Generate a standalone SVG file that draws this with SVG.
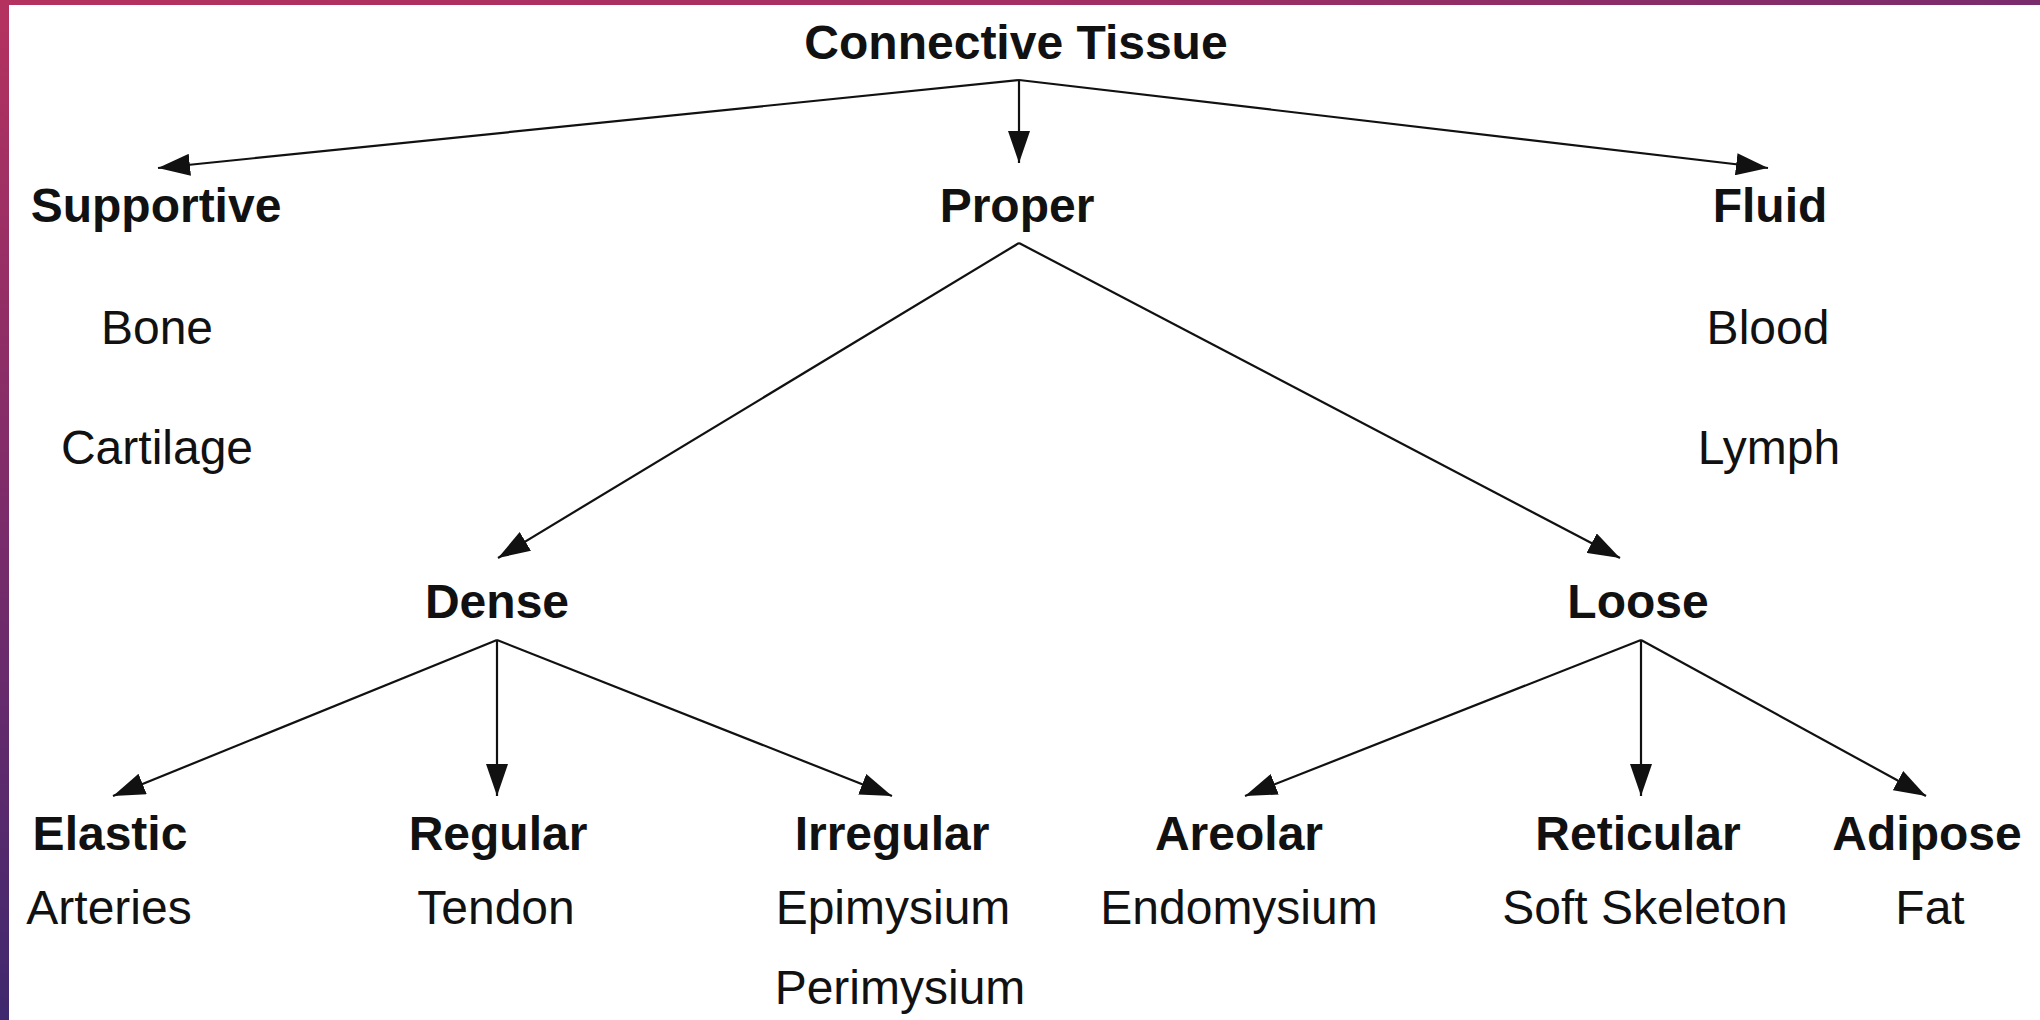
<svg xmlns="http://www.w3.org/2000/svg" width="2040" height="1020" viewBox="0 0 2040 1020">
  <defs>
    <linearGradient id="leftBar" x1="0" y1="0" x2="0" y2="1">
      <stop offset="0" stop-color="#b5325f"/>
      <stop offset="0.5" stop-color="#7c2c6a"/>
      <stop offset="1" stop-color="#3f286e"/>
    </linearGradient>
    <linearGradient id="topBar" x1="0" y1="0" x2="1" y2="0">
      <stop offset="0" stop-color="#b5325f"/>
      <stop offset="0.5" stop-color="#a42f63"/>
      <stop offset="1" stop-color="#7a2b6c"/>
    </linearGradient>
    <marker id="arrow" markerUnits="userSpaceOnUse" markerWidth="32" markerHeight="22" refX="32" refY="11" orient="auto">
      <path d="M0,0 L32,11 L0,22 Z" fill="#111"/>
    </marker>
    <style>
      .head { font-family: "Liberation Sans", Arial, sans-serif; font-weight: bold; font-size: 48px; fill: #111; text-anchor: middle; }
      .item { font-family: "Liberation Sans", Arial, sans-serif; font-size: 48px; fill: #111; text-anchor: middle; }
      .edge { stroke: #111; stroke-width: 2.2; fill: none; marker-end: url(#arrow); }
    </style>
  </defs>

  <rect x="0" y="0" width="2040" height="1020" fill="url(#leftBar)"/>
  <rect x="0" y="0" width="2040" height="5" fill="url(#topBar)"/>
  <rect x="9" y="5" width="2031" height="1015" fill="#ffffff"/>

  <g id="connectors">
    <line class="edge" x1="1019" y1="80" x2="158" y2="168"/>
    <line class="edge" x1="1019" y1="80" x2="1019" y2="163"/>
    <line class="edge" x1="1019" y1="80" x2="1768" y2="168"/>
    <line class="edge" x1="1019" y1="243" x2="498" y2="558"/>
    <line class="edge" x1="1019" y1="243" x2="1620" y2="558"/>
    <line class="edge" x1="497" y1="640" x2="113" y2="796"/>
    <line class="edge" x1="497" y1="640" x2="497" y2="796"/>
    <line class="edge" x1="497" y1="640" x2="892" y2="796"/>
    <line class="edge" x1="1641" y1="640" x2="1245" y2="796"/>
    <line class="edge" x1="1641" y1="640" x2="1641" y2="796"/>
    <line class="edge" x1="1641" y1="640" x2="1926" y2="796"/>
  </g>

  <g id="node-connective-tissue"><text class="head" x="1016" y="59">Connective Tissue</text></g>

  <g id="node-supportive"><text class="head" x="156" y="222">Supportive</text></g>
  <g id="node-bone"><text class="item" x="157" y="344">Bone</text></g>
  <g id="node-cartilage"><text class="item" x="157" y="464">Cartilage</text></g>

  <g id="node-proper"><text class="head" x="1017" y="222">Proper</text></g>

  <g id="node-fluid"><text class="head" x="1770" y="222">Fluid</text></g>
  <g id="node-blood"><text class="item" x="1768" y="344">Blood</text></g>
  <g id="node-lymph"><text class="item" x="1769" y="464">Lymph</text></g>

  <g id="node-dense"><text class="head" x="497" y="618">Dense</text></g>
  <g id="node-loose"><text class="head" x="1638" y="618">Loose</text></g>

  <g id="node-elastic"><text class="head" x="110" y="850">Elastic</text><text class="item" x="109" y="924">Arteries</text></g>
  <g id="node-regular"><text class="head" x="498" y="850">Regular</text><text class="item" x="496" y="924">Tendon</text></g>
  <g id="node-irregular"><text class="head" x="892" y="850">Irregular</text><text class="item" x="893" y="924">Epimysium</text><text class="item" x="900" y="1004">Perimysium</text></g>
  <g id="node-areolar"><text class="head" x="1239" y="850">Areolar</text><text class="item" x="1239" y="924">Endomysium</text></g>
  <g id="node-reticular"><text class="head" x="1638" y="850">Reticular</text><text class="item" x="1645" y="924">Soft Skeleton</text></g>
  <g id="node-adipose"><text class="head" x="1927" y="850">Adipose</text><text class="item" x="1930" y="924">Fat</text></g>
</svg>
